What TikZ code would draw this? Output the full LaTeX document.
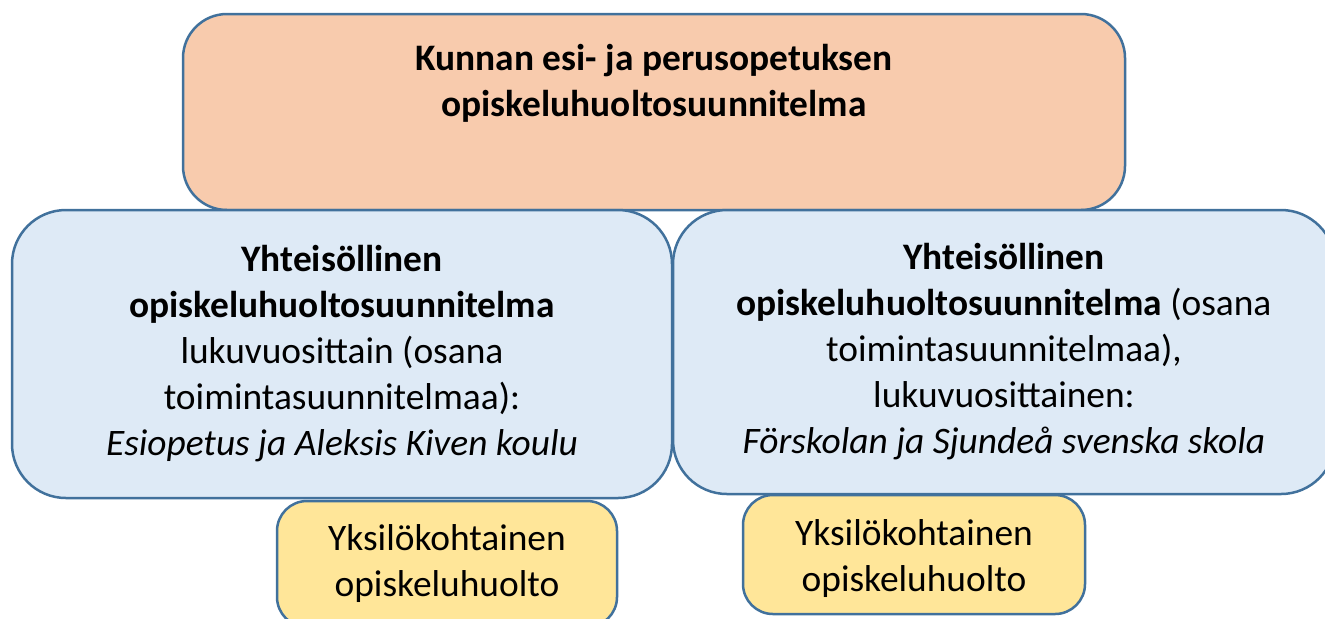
\documentclass[tikz,border=0pt]{standalone}
\usepackage{fontspec}
\setmainfont{Carlito}
\definecolor{edge}{HTML}{41719C}
\definecolor{plan}{HTML}{F8CBAD}
\definecolor{school}{HTML}{DEEAF6}
\definecolor{pupil}{HTML}{FFE699}
\begin{document}
\begin{tikzpicture}[x=0.5pt,y=-0.5pt,
  box/.style={draw=edge,line width=1.25pt,align=center,inner sep=0pt,
    font=\fontsize{18.7}{23}\selectfont},
  planbox/.style={box,fill=plan,rounded corners=22pt,minimum width=471pt,minimum height=98pt},
  schoolbox/.style={box,fill=school,rounded corners=27pt},
  pupilbox/.style={box,fill=pupil,rounded corners=15pt}]
  \useasboundingbox (0,0) rectangle (1325,618);
  \node[planbox] (plan) at (654,112) {\textbf{Kunnan esi- ja perusopetuksen}\\\textbf{opiskeluhuoltosuunnitelma}\\[9pt]\mbox{}};
  \node[schoolbox,minimum width=330pt,minimum height=144pt] (left) at (342,354) {\textbf{Yhteisöllinen}\\\textbf{opiskeluhuoltosuunnitelma}\\lukuvuosittain (osana\\toimintasuunnitelmaa):\\\textit{Esiopetus ja Aleksis Kiven koulu}};
  \node[schoolbox,minimum width=331pt,minimum height=142pt] (right) at (1004,352) {\textbf{Yhteisöllinen}\\\textbf{opiskeluhuoltosuunnitelma} (osana\\toimintasuunnitelmaa),\\lukuvuosittainen:\\\textit{Förskolan ja Sjundeå svenska skola}};
  \node[pupilbox,minimum width=170pt,minimum height=63pt] (pupilL) at (447,564) {Yksilökohtainen\\opiskeluhuolto};
  \node[pupilbox,minimum width=171pt,minimum height=59.5pt] (pupilR) at (914,554.5) {\mbox{}\\[-6pt]Yksilökohtainen\\opiskeluhuolto};
\end{tikzpicture}
\end{document}
